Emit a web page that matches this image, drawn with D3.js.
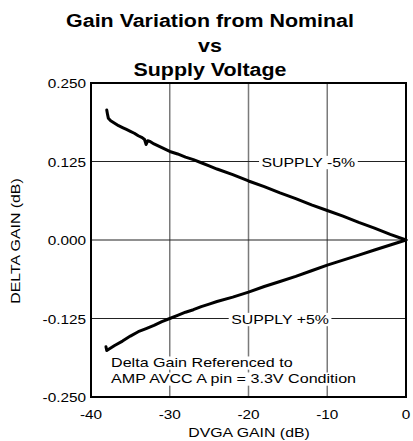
<!DOCTYPE html>
<html>
<head>
<meta charset="utf-8">
<script src="https://d3js.org/d3.v7.min.js"></script>
<style>
body { margin: 0; background: #fff; }
text { font-family: Arial, "Liberation Sans", Helvetica, sans-serif; fill: #000; }
.title { font-size: 18px; font-weight: bold; }
.tick-label { font-size: 13px; }
.axis-title { font-size: 13px; }
.note { font-size: 13px; }
</style>
</head>
<body>
<div id="chart"></div>
<script>
// DVGA gain (dB) for each trace
var xMinus = [-38.0, -37.9, -37.8, -37.5, -37, -36.5, -36, -35.5, -35, -34.5, -34, -33.5, -33.2, -33.0, -32.8, -32.5, -32, -31, -30, -29, -28, -27, -26, -25, -24, -22, -20, -18, -16, -14, -12, -10, -8, -6, -4, -2, 0];
var supplyMinus = [0.207, 0.200, 0.194, 0.190, 0.186, 0.182, 0.179, 0.176, 0.173, 0.170, 0.166, 0.163, 0.160, 0.152, 0.158, 0.157, 0.153, 0.147, 0.141, 0.137, 0.132, 0.128, 0.123, 0.118, 0.113, 0.104, 0.094, 0.085, 0.075, 0.066, 0.056, 0.047, 0.038, 0.028, 0.019, 0.009, 0.000];

var xPlus = [-38.1, -38.0, -37.5, -37, -36, -35, -34, -33, -32, -31, -30, -29, -28, -27, -26, -25, -24, -22, -20, -18, -16, -14, -12, -10, -8, -6, -4, -2, 0];
var supplyPlus = [-0.170, -0.176, -0.172, -0.168, -0.161, -0.153, -0.146, -0.141, -0.136, -0.130, -0.125, -0.120, -0.115, -0.111, -0.106, -0.102, -0.098, -0.091, -0.083, -0.074, -0.066, -0.058, -0.049, -0.040, -0.032, -0.024, -0.016, -0.008, 0.000];

var xTicks = [-40, -30, -20, -10, 0];
var yTicks = [0.250, 0.125, 0.000, -0.125, -0.250];
var titleLines = ["Gain Variation from Nominal", "vs", "Supply Voltage"];
var noteLines = ["Delta Gain Referenced to", "AMP AVCC A pin = 3.3V Condition"];

var W = 413, H = 441;
var margin = {top: 83, right: 7, bottom: 44, left: 91};
var width = W - margin.left - margin.right,
    height = H - margin.top - margin.bottom;

var x = d3.scaleLinear().domain([-40, 0]).range([0, width]);
var y = d3.scaleLinear().domain([-0.25, 0.25]).range([height, 0]);

// the original lettering is a bit wider than Arial, so stretch it sideways
function place(tx, ty, sx) {
  return "translate(" + tx + "," + ty + ") scale(" + sx + ",1)";
}

var svg = d3.select("#chart").append("svg")
    .attr("width", W)
    .attr("height", H);

// title
svg.selectAll(".title").data(titleLines).enter().append("text")
    .attr("class", "title")
    .attr("transform", function(d, i){ return place(210, 27 + 24.5 * i, 1.19); })
    .attr("text-anchor", "middle")
    .text(function(d){ return d; });

var g = svg.append("g").attr("transform", "translate(" + margin.left + "," + margin.top + ")");

// gridlines
g.selectAll(".vgrid").data(xTicks.slice(1, 4)).enter().append("line")
    .attr("x1", function(d){ return x(d); }).attr("x2", function(d){ return x(d); })
    .attr("y1", 0).attr("y2", height)
    .attr("stroke", "#7a7a7a").attr("stroke-width", 1.5);
g.selectAll(".hgrid").data(yTicks.slice(1, 4)).enter().append("line")
    .attr("x1", 0).attr("x2", width)
    .attr("y1", function(d){ return y(d); }).attr("y2", function(d){ return y(d); })
    .attr("stroke", "#222").attr("stroke-width", 1.2);

// traces
var line = d3.line()
    .x(function(d){ return x(d[0]); })
    .y(function(d){ return y(d[1]); });

[[xMinus, supplyMinus], [xPlus, supplyPlus]].forEach(function(s){
  g.append("path")
    .datum(d3.zip(s[0], s[1]))
    .attr("d", line)
    .attr("fill", "none")
    .attr("stroke", "#000")
    .attr("stroke-width", 3)
    .attr("stroke-linejoin", "round")
    .attr("stroke-linecap", "round");
});

// labels with white boxes that break the gridlines
function boxedText(tx, ty, str, anchor, sx) {
  var t = g.append("text")
      .attr("class", "note")
      .attr("transform", place(tx, ty, sx))
      .attr("text-anchor", anchor)
      .text(str);
  var b = t.node().getBBox();
  g.insert("rect", function(){ return t.node(); })
      .attr("x", tx + (b.x - 2) * sx).attr("y", ty + b.y + 1)
      .attr("width", (b.width + 4) * sx).attr("height", b.height - 1)
      .attr("fill", "#fff");
  return t;
}

boxedText(x(-12.4), y(0.125) + 5, "SUPPLY -5%", "middle", 1.22);
boxedText(x(-16.0), y(-0.125) + 5, "SUPPLY +5%", "middle", 1.22);
noteLines.forEach(function(d, i){
  boxedText(20, 284 + 16 * i, d, "start", 1.24);
});

// frame
g.append("rect")
    .attr("x", 0).attr("y", 0)
    .attr("width", width).attr("height", height)
    .attr("fill", "none").attr("stroke", "#000").attr("stroke-width", 2);

// tick labels
svg.selectAll(".ylab").data(yTicks).enter().append("text")
    .attr("class", "tick-label")
    .attr("transform", function(d){ return place(86, margin.top + y(d) + 5, 1.18); })
    .attr("text-anchor", "end")
    .text(function(d){ return d.toFixed(3); });

svg.selectAll(".xlab").data(xTicks).enter().append("text")
    .attr("class", "tick-label")
    .attr("transform", function(d){ return place(margin.left + x(d), 419, 1.18); })
    .attr("text-anchor", "middle")
    .text(function(d){ return d; });

// axis titles
svg.append("text")
    .attr("class", "axis-title")
    .attr("transform", place(249, 437, 1.22))
    .attr("text-anchor", "middle")
    .text("DVGA GAIN (dB)");

svg.append("text")
    .attr("class", "axis-title")
    .attr("transform", "translate(20,241) rotate(-90) scale(1.22,1)")
    .attr("text-anchor", "middle")
    .text("DELTA GAIN (dB)");
</script>
</body>
</html>
